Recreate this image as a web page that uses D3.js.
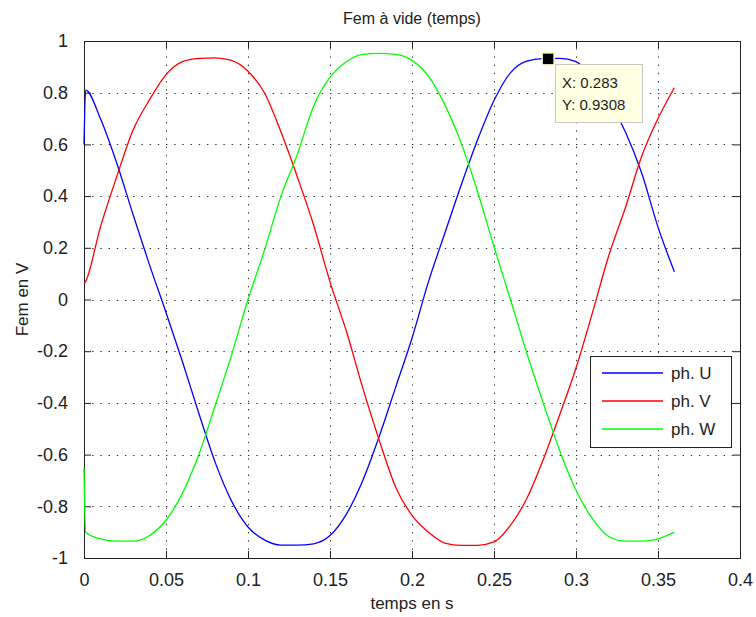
<!DOCTYPE html>
<html><head><meta charset="utf-8">
<script src="https://cdn.jsdelivr.net/npm/d3@7"></script>
<style>
html,body{margin:0;padding:0;background:#fff;}
svg text{font-family:"Liberation Sans",Arial,sans-serif;fill:#222;}
</style></head>
<body><svg id="c" width="756" height="617"></svg>
<script>
const times = [0,0.001,0.01,0.02,0.03,0.04,0.05,0.06,0.07,0.08,0.09,0.10,0.11,0.12,0.13,0.14,0.15,0.16,0.17,0.18,0.19,0.20,0.21,0.22,0.23,0.24,0.25,0.26,0.27,0.28,0.29,0.30,0.31,0.32,0.33,0.34,0.35,0.36];
const phaseU = [0.60,0.81,0.70,0.527,0.327,0.133,-0.05,-0.24,-0.44,-0.63,-0.78,-0.88,-0.93,-0.95,-0.95,-0.945,-0.913,-0.83,-0.70,-0.53,-0.34,-0.15,0.068,0.256,0.443,0.618,0.77,0.877,0.922,0.932,0.933,0.92,0.858,0.77,0.65,0.49,0.28,0.107];
const phaseV = [0.06,0.07,0.28,0.476,0.657,0.773,0.87,0.92,0.933,0.935,0.925,0.883,0.80,0.65,0.476,0.288,0.068,-0.123,-0.343,-0.544,-0.725,-0.835,-0.90,-0.942,-0.951,-0.951,-0.938,-0.874,-0.77,-0.62,-0.447,-0.265,-0.052,0.17,0.353,0.553,0.70,0.819];
const phaseW = [-0.65,-0.90,-0.926,-0.935,-0.935,-0.913,-0.854,-0.75,-0.60,-0.41,-0.214,0.0,0.19,0.398,0.56,0.748,0.86,0.92,0.948,0.952,0.948,0.925,0.864,0.754,0.605,0.417,0.204,0.0,-0.207,-0.40,-0.583,-0.738,-0.848,-0.917,-0.935,-0.935,-0.926,-0.90];
const seriesNames = ["ph. U","ph. V","ph. W"];
const seriesColors = ["#0000ff","#ff0000","#00ff00"];
const xTicks = [0,0.05,0.1,0.15,0.2,0.25,0.3,0.35,0.4];
const xTickLabels = ["0","0.05","0.1","0.15","0.2","0.25","0.3","0.35","0.4"];
const yTicks = [-1,-0.8,-0.6,-0.4,-0.2,0,0.2,0.4,0.6,0.8,1];
const yTickLabels = ["-1","-0.8","-0.6","-0.4","-0.2","0","0.2","0.4","0.6","0.8","1"];
const tipX = 0.283, tipY = 0.9308;

const svg = d3.select("#c");
const L = 84, R = 740, T = 41, B = 558;
const x = d3.scaleLinear().domain([0,0.4]).range([L,R]);
const y = d3.scaleLinear().domain([-1,1]).range([B,T]);

// grid
const grid = svg.append("g").attr("stroke","#333").attr("stroke-width",1).attr("stroke-dasharray","1.4 6.8");
xTicks.slice(1,-1).forEach(t=>grid.append("line").attr("x1",Math.round(x(t))+0.5).attr("x2",Math.round(x(t))+0.5).attr("y1",B).attr("y2",T));
yTicks.slice(1,-1).forEach(t=>grid.append("line").attr("y1",Math.round(y(t))+0.5).attr("y2",Math.round(y(t))+0.5).attr("x1",L).attr("x2",R));

// axes with inside ticks on all four sides
const fmtX = (d,i)=>xTickLabels[i], fmtY=(d,i)=>yTickLabels[i];
const gB = svg.append("g").attr("transform",`translate(0,${B})`).call(d3.axisBottom(x).tickValues(xTicks).tickFormat(fmtX).tickSizeInner(-7).tickSizeOuter(0).tickPadding(15));
const gL = svg.append("g").attr("transform",`translate(${L},0)`).call(d3.axisLeft(y).tickValues(yTicks).tickFormat(fmtY).tickSizeInner(-7).tickSizeOuter(0).tickPadding(16));
const gT = svg.append("g").attr("transform",`translate(0,${T})`).call(d3.axisTop(x).tickValues(xTicks).tickFormat("").tickSizeInner(-7).tickSizeOuter(0));
const gR = svg.append("g").attr("transform",`translate(${R},0)`).call(d3.axisRight(y).tickValues(yTicks).tickFormat("").tickSizeInner(-7).tickSizeOuter(0));
[gB,gL,gT,gR].forEach(g=>{g.select(".domain").remove();g.selectAll("line").attr("stroke","#222");g.selectAll("text").attr("font-size",18).attr("fill","#222").attr("font-family","Liberation Sans, Arial, sans-serif");});

svg.append("rect").attr("x",L+0.5).attr("y",T+0.5).attr("width",R-L).attr("height",B-T).attr("fill","none").attr("stroke","#222").attr("stroke-width",1);

// lines
const data = [phaseU,phaseV,phaseW];
const line = d3.line().x((d,i)=>x(times[i])).y(d=>y(d)).curve(d3.curveMonotoneX);
data.forEach((s,k)=>svg.append("path").attr("d",line(s)).attr("fill","none").attr("stroke",seriesColors[k]).attr("stroke-width",1.3));

// title & labels
svg.append("text").attr("x",412).attr("y",24).attr("text-anchor","middle").attr("font-size",16).text("Fem à vide (temps)");
svg.append("text").attr("x",412).attr("y",609).attr("text-anchor","middle").attr("font-size",17).text("temps en s");
svg.append("text").attr("transform",`translate(28,${(T+B)/2}) rotate(-90)`).attr("text-anchor","middle").attr("font-size",17).text("Fem en V");

// legend
const lg = svg.append("g");
lg.append("rect").attr("x",590.5).attr("y",356.5).attr("width",141).attr("height",91).attr("fill","#fff").attr("stroke","#222");
seriesNames.forEach((n,k)=>{
  const yy = 373 + k*28;
  lg.append("line").attr("x1",602).attr("x2",663).attr("y1",yy).attr("y2",yy).attr("stroke",seriesColors[k]).attr("stroke-width",1.3);
  lg.append("text").attr("x",671).attr("y",yy+6).attr("font-size",17).text(n);
});

// data tip
const mx = x(tipX), my = y(tipY);
svg.append("rect").attr("x",mx-6).attr("y",my-6).attr("width",12).attr("height",12).attr("fill","#000").attr("stroke","#ffffcc").attr("stroke-width",1.5);
const tip = svg.append("g");
tip.append("rect").attr("x",555.5).attr("y",64.5).attr("width",87).attr("height",58).attr("fill","#ffffe1").attr("stroke","#c8c8c8");
tip.append("text").attr("x",562).attr("y",88).attr("font-size",15).text("X: "+tipX);
tip.append("text").attr("x",562).attr("y",110).attr("font-size",15).text("Y: "+tipY);
</script></body></html>
